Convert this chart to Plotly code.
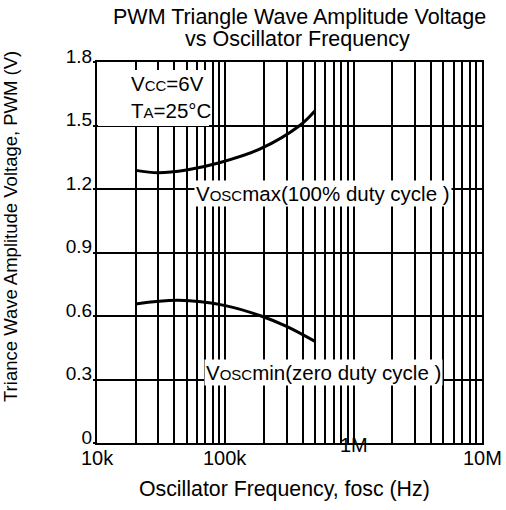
import math
import plotly.graph_objects as go

# ---------------- data ----------------
vmax_freq = [20000, 30000, 50000, 90000, 185000, 380000, 500000]
vmax_volt = [1.288, 1.277, 1.290, 1.324, 1.388, 1.500, 1.570]

vmin_freq = [20000, 43000, 100000, 190000, 300000, 500000]
vmin_volt = [0.657, 0.674, 0.649, 0.600, 0.551, 0.480]

x_tick_vals = [1e4, 1e5, 1e6, 1e7]
x_tick_labels = ["10k", "100k", "1M", "10M"]
x_tick_raise = [0, 0, 13, 0]

y_tick_vals = [0, 0.3, 0.6, 0.9, 1.2, 1.5, 1.8]
y_tick_labels = ["0", "0.3", "0.6", "0.9", "1.2", "1.5", "1.8"]

x_grid_vals = [m * 10 ** e for e in (4, 5, 6) for m in range(2, 11)]

FONT = "Liberation Sans, Arial, sans-serif"

fig = go.Figure()
fig.add_trace(go.Scatter(x=vmax_freq, y=vmax_volt, mode="lines",
                         line=dict(color="black", width=3, shape="spline"),
                         showlegend=False, hoverinfo="skip"))
fig.add_trace(go.Scatter(x=vmin_freq, y=vmin_volt, mode="lines",
                         line=dict(color="black", width=3, shape="spline"),
                         showlegend=False, hoverinfo="skip"))

L, R, T, B = 97, 24, 62, 67
W, H = 506, 510
PW, PH = W - L - R, H - T - B


def px(x):
    return (x - L) / PW


def py(y):
    return (H - B - y) / PH


fig.update_layout(
    width=W, height=H,
    margin=dict(l=L, r=R, t=T, b=B, pad=0),
    paper_bgcolor="white", plot_bgcolor="white",
    font=dict(family=FONT, color="black"),
    xaxis=dict(type="log", range=[4, 7],
               tickmode="array", tickvals=x_grid_vals, showticklabels=False,
               ticks="", showgrid=True, gridcolor="black", gridwidth=1.5,
               showline=True, linecolor="black", linewidth=2, mirror=True,
               zeroline=False),
    yaxis=dict(range=[0, 1.8], tickmode="array", tickvals=y_tick_vals,
               ticktext=y_tick_labels, ticks="outside", ticklen=2,
               tickcolor="black", tickwidth=1.5,
               tickfont=dict(size=19, family=FONT, color="black"),
               ticklabelshift=-6, ticklabelstandoff=-3,
               showgrid=True, gridcolor="black", gridwidth=1.5,
               showline=True, linecolor="black", linewidth=2, mirror=True,
               zeroline=False),
)

# white box behind the condition text
fig.add_shape(type="rect", xref="paper", yref="paper",
              x0=px(98), x1=px(209), y0=py(126), y1=py(70),
              fillcolor="white", line=dict(width=0), layer="above")

ann = []
# x tick labels
for v, t, r in zip(x_tick_vals, x_tick_labels, x_tick_raise):
    ann.append(dict(x=math.log10(v), xref="x", y=0, yref="paper",
                    text=t, showarrow=False, xanchor="center", yanchor="top",
                    yshift=-2 + r, font=dict(size=20, family=FONT)))

ann += [
    dict(x=px(299), y=py(17), xref="paper", yref="paper",
         text="PWM Triangle Wave Amplitude Voltage", showarrow=False,
         xanchor="center", yanchor="middle", font=dict(size=21.5, family=FONT)),
    dict(x=px(297), y=py(39), xref="paper", yref="paper",
         text="vs Oscillator Frequency", showarrow=False,
         xanchor="center", yanchor="middle", font=dict(size=21.5, family=FONT)),
    dict(x=px(284), y=py(489), xref="paper", yref="paper",
         text="Oscillator Frequency, fosc (Hz)", showarrow=False,
         xanchor="center", yanchor="middle", font=dict(size=21.3, family=FONT)),
    dict(x=px(10), y=py(227), xref="paper", yref="paper",
         text="Triance Wave Amplitude Voltage, PWM (V)", showarrow=False,
         textangle=-90, xanchor="center", yanchor="middle",
         font=dict(size=18.5, family=FONT)),
    dict(x=px(129), y=py(97), xref="paper", yref="paper",
         text="V<span style='font-size:15px'>CC</span>=6V<br>"
              "T<span style='font-size:15px'>A</span>=25°C",
         showarrow=False, align="left", xanchor="left", yanchor="middle",
         font=dict(size=20.5, family=FONT)),
    dict(x=px(322.5), y=py(193.5), xref="paper", yref="paper",
         text="V<span style='font-size:15px'>OSC</span>max(100% duty cycle )",
         showarrow=False, xanchor="center", yanchor="middle",
         bgcolor="white", borderpad=1, font=dict(size=20.5, family=FONT)),
    dict(x=px(323.5), y=py(372.5), xref="paper", yref="paper",
         text="V<span style='font-size:15px'>OSC</span>min(zero duty cycle )",
         showarrow=False, xanchor="center", yanchor="middle",
         bgcolor="white", borderpad=1, font=dict(size=20.5, family=FONT)),
]
fig.update_layout(annotations=ann)

fig.write_html("out.html",
               config={"displayModeBar": False},
               post_script="document.body.style.margin='0';"
                           "document.body.style.padding='0';")
